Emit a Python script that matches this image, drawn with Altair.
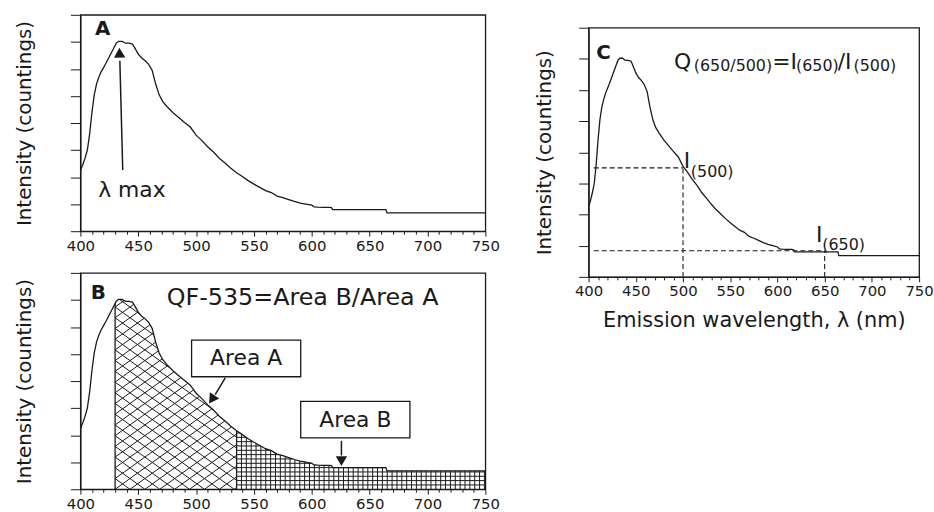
import altair as alt
import numpy as np
import pandas as pd

# ---------------- data ----------------
wavelength = [400, 402, 404, 406, 408, 410, 412, 414, 416, 418, 420, 422, 425, 428,
              431, 433, 436, 439, 442, 445, 447, 450, 453, 456, 459, 462, 465, 468,
              471, 475, 480, 485, 490, 495, 500, 505, 510, 515, 520, 525, 530, 535,
              540, 545, 550, 555, 560, 565, 570, 575, 580, 585, 590, 595, 600, 602,
              605, 610, 615, 617, 618, 625, 640, 655, 664, 665, 700, 750]
intensity = [2.25, 2.45, 2.7, 3.0, 3.6, 4.4, 5.05, 5.45, 5.7, 5.9, 6.05, 6.2, 6.45, 6.7,
             6.95, 7.02, 7.02, 6.95, 6.95, 6.92, 6.78, 6.55, 6.4, 6.3, 6.17, 5.95, 5.45, 5.05,
             4.8, 4.6, 4.38, 4.2, 4.02, 3.85, 3.55, 3.35, 3.12, 2.93, 2.7, 2.52, 2.33, 2.16,
             2.02, 1.87, 1.74, 1.62, 1.5, 1.43, 1.3, 1.24, 1.17, 1.1, 1.04, 1.0, 0.96, 0.9,
             0.89, 0.88, 0.88, 0.87, 0.8, 0.8, 0.8, 0.8, 0.8, 0.68, 0.68, 0.68]

x_ticks = list(range(400, 751, 10))
y_ticks = list(range(0, 9))
area_a_range = [430, 535]
area_b_range = [535, 750]

# panel A annotations
a_label = {"x": [419.3], "y": [7.49], "t": ["A"]}
a_text = {"x": [415.4], "y": [1.28], "t": ["λ max"]}
a_shaft = {"x": [436.6], "y": [2.26], "x2": [434.1], "y2": [6.3]}
a_head = {"x": [433.8], "y": [6.6], "ang": [358]}

# panel B annotations
b_label = {"x": [415.4], "y": [7.24], "t": ["B"]}
b_title = {"x": [474.6], "y": [6.82], "t": ["QF-535=Area B/Area A"]}
b_boxes = {"x": [496.1, 590.4], "x2": [590.4, 684.8], "y": [4.16, 1.90], "y2": [5.51, 3.25]}
b_box_text = {"x": [543.2, 637.6], "y": [4.84, 2.57], "t": ["Area A", "Area B"]}
b_shafts = {"x": [525.2, 625.6], "y": [4.12, 1.79], "x2": [516.5, 625.6], "y2": [3.5, 1.25]}
b_heads = {"x": [513.6, 625.6], "y": [3.32, 1.04], "ang": [214, 180]}

# panel C annotations
c_label = {"x": [415.8], "y": [7.2], "t": ["C"]}
c_big = {"x": [490.4, 594.4, 663.8, 500.9, 640.7], "y": [6.66, 6.69, 6.69, 3.51, 1.12],
         "t": ["Q", "=I", "/I", "I", "I"]}
c_sub = {"x": [511.4, 619.7, 680.6, 508.3, 647.5], "y": [6.6, 6.6, 6.6, 3.2, 0.86],
         "t": ["(650/500)", "(650)", "(500)", "(500)", "(650)"]}
c_dash = {"x": [405.6, 500, 405.6, 650], "x2": [500, 500, 650, 650],
          "y": [3.5, 0, 0.84, 0], "y2": [3.5, 3.5, 0.84, 0.84]}

# ---------------- styling ----------------
FONT = "DejaVu Sans"
INK = "#1a1a1a"
W_AB, H_AB = 408, 218
W_C, H_C = 333, 251

XS = alt.Scale(domain=[400, 750], nice=False, zero=False)
YS = alt.Scale(domain=[0, 8], nice=False, zero=False)


def xaxis(title=None):
    kw = dict(values=x_ticks,
              labelExpr="datum.value % 50 === 0 ? datum.label : ''",
              labelFlush=False, labelOverlap=False, labelFont=FONT, labelFontSize=15,
              labelColor=INK, labelPadding=2, tickColor=INK, tickWidth=1,
              tickSize={"condition": {"test": "datum.value % 50 === 0", "value": 5}, "value": 3},
              domainColor=INK, domainWidth=1.2, grid=False)
    if title:
        kw.update(title=title, titleFont=FONT, titleFontSize=21, titleFontWeight="normal",
                  titleColor=INK, titlePadding=11)
    else:
        kw["title"] = None
    return alt.Axis(**kw)


def yaxis(pad):
    return alt.Axis(values=y_ticks, labels=False, tickSize=10, tickColor=INK, tickWidth=1,
                    domainColor=INK, domainWidth=1.2, grid=False,
                    title="Intensity (countings)", titleFont=FONT, titleFontSize=20,
                    titleFontWeight="normal", titleColor=INK, titlePadding=pad)


def make_layer(df, mark, xtitle, ypad, extra):
    enc = dict(x=alt.X("x:Q", scale=XS, axis=xaxis(xtitle)),
               y=alt.Y("y:Q", scale=YS, axis=yaxis(ypad)))
    enc.update(extra)
    base = alt.Chart(pd.DataFrame(df))
    return getattr(base, mark[0])(**mark[1]).encode(**enc)


curve = {"x": wavelength, "y": intensity}


def panel_layers(xtitle, ypad):
    L = lambda df, mark, **extra: make_layer(df, mark, xtitle, ypad, extra)
    line = L(curve, ("mark_line", dict(color=INK, strokeWidth=1.3)))
    return L, line


def label_layer(L, df):
    return L(df, ("mark_text", dict(font=FONT, fontSize=20, fontWeight="bold", color=INK,
                                      align="center", baseline="middle")), text="t:N")


def arrow_layers(L, shafts, heads):
    s = L(shafts, ("mark_rule", dict(color=INK, strokeWidth=1.5)), x2="x2:Q", y2="y2:Q")
    h = L(heads, ("mark_point", dict(shape="triangle-up", filled=True, size=130, color=INK,
                                       opacity=1)), angle=alt.Angle("ang:Q", scale=None))
    return [s, h]


# ---------------- hatch patterns for panel B (derived from the curve) ----------------
kx = W_AB / 350.0
ky = H_AB / 8.0
wl_a = np.array(wavelength, float)
it_a = np.array(intensity, float)


def curve_px(X):
    return np.interp(X / kx + 400, wl_a, it_a) * ky


def runs(mask):
    idx = np.flatnonzero(mask)
    if idx.size == 0:
        return []
    sp = np.flatnonzero(np.diff(idx) > 1)
    starts = np.r_[idx[0], idx[sp + 1]]
    ends = np.r_[idx[sp], idx[-1]]
    return list(zip(starts, ends))


SLOPE = 0.72
HATCH = 15.0
hx, hy, hx2, hy2 = [], [], [], []
Xa = (area_a_range[0] - 400) * kx
Xb = (area_a_range[1] - 400) * kx
Xs = np.arange(Xa, Xb + 1e-9, 0.2)
Cs = curve_px(Xs)
ymax = Cs.max()
n_back = int(np.ceil(ymax / SLOPE / HATCH)) + 1
n_fwd = int(np.ceil((Xb - Xa + ymax / SLOPE) / HATCH)) + 1
for k in range(-n_back, n_fwd + 1):
    c = Xa + k * HATCH
    for sgn in (1, -1):
        Ys = sgn * SLOPE * (Xs - c)
        m = (Ys >= 0) & (Ys <= Cs)
        for s, e in runs(m):
            if e - s < 2:
                continue
            hx.append(Xs[s] / kx + 400); hy.append(Ys[s] / ky)
            hx2.append(Xs[e] / kx + 400); hy2.append(Ys[e] / ky)

GRID_DX = 4.2
GRID_DY = 0.16
gx = np.arange(area_b_range[0] + GRID_DX, area_b_range[1], GRID_DX)
for v in gx:
    hx.append(v); hy.append(0.0); hx2.append(v); hy2.append(float(np.interp(v, wl_a, it_a)))
xb = np.arange(area_b_range[0], area_b_range[1] + 1e-9, 0.05)
cb = np.interp(xb, wl_a, it_a)
for j in range(1, 40):
    yv = j * GRID_DY
    m = cb >= yv
    r = runs(m)
    if not r or r[0][0] != 0:
        continue
    s, e = r[0]
    hx.append(xb[s]); hy.append(yv); hx2.append(xb[e]); hy2.append(yv)
hatch = {"x": hx, "y": hy, "x2": hx2, "y2": hy2}
bounds = {"x": [430, 535], "y": [0, 0], "x2": [430, 535],
          "y2": [float(np.interp(430, wl_a, it_a)), float(np.interp(535, wl_a, it_a))]}

# ---------------- panel A ----------------
LA, lineA = panel_layers(None, 36)
panelA = alt.layer(
    lineA,
    label_layer(LA, a_label),
    LA(a_text, ("mark_text", dict(font=FONT, fontSize=22, color=INK, align="left",
                                    baseline="alphabetic")), text="t:N"),
    *arrow_layers(LA, a_shaft, a_head),
).properties(width=W_AB, height=H_AB)

# ---------------- panel B ----------------
LB, lineB = panel_layers(None, 36)
panelB = alt.layer(
    LB(hatch, ("mark_rule", dict(color=INK, strokeWidth=1.0)), x2="x2:Q", y2="y2:Q"),
    LB(bounds, ("mark_rule", dict(color=INK, strokeWidth=1.3)), x2="x2:Q", y2="y2:Q"),
    lineB,
    label_layer(LB, b_label),
    LB(b_title, ("mark_text", dict(font=FONT, fontSize=24, color=INK, align="left",
                                     baseline="alphabetic")), text="t:N"),
    LB(b_boxes, ("mark_rect", dict(fill="white", stroke=INK, strokeWidth=1.3)),
       x2="x2:Q", y2="y2:Q"),
    LB(b_box_text, ("mark_text", dict(font=FONT, fontSize=22, color=INK, align="center",
                                        baseline="middle")), text="t:N"),
    *arrow_layers(LB, b_shafts, b_heads),
).properties(width=W_AB, height=H_AB)

# ---------------- panel C ----------------
LC, lineC = panel_layers("Emission wavelength, λ (nm)", 24)
panelC = alt.layer(
    LC(c_dash, ("mark_rule", dict(color=INK, strokeWidth=1.1, strokeDash=[5, 3])),
       x2="x2:Q", y2="y2:Q"),
    lineC,
    label_layer(LC, c_label),
    LC(c_big, ("mark_text", dict(font=FONT, fontSize=22, color=INK, align="left",
                                   baseline="alphabetic")), text="t:N"),
    LC(c_sub, ("mark_text", dict(font=FONT, fontSize=16, color=INK, align="left",
                                   baseline="alphabetic")), text="t:N"),
).properties(width=W_C, height=H_C)

# invisible spacer (10 px tall) that lowers panel C relative to panel A
spacer = alt.Chart(pd.DataFrame({"v": [0]})).mark_point(opacity=0, size=1).encode(
    x=alt.value(0.5), y=alt.value(5)
).properties(width=1, height=10, view=alt.ViewBackground(stroke="transparent"))

left = alt.vconcat(panelA, panelB, spacing=17)
right = alt.vconcat(spacer, panelC, spacing=0)
chart = alt.hconcat(left, right, spacing=33).properties(
    padding={"left": 13, "top": 11, "right": 0, "bottom": 0},
    background="white",
).configure_view(stroke=INK, strokeWidth=1.3)

chart.save("out.html", embed_options={"renderer": "svg", "actions": False})
